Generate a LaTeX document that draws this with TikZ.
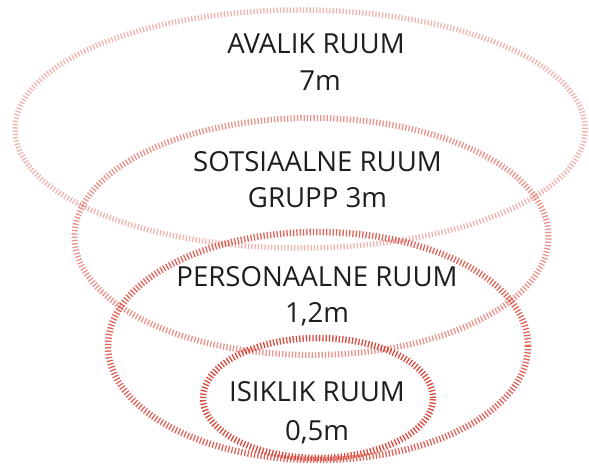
\documentclass[tikz,border=0pt]{standalone}
\usepackage{fontspec}
\setmainfont{Open Sans}
\definecolor{ringred}{RGB}{214,58,46}
\definecolor{labelgray}{RGB}{30,30,30}
\tikzset{
  ring/.style={draw=ringred, line width=6.5pt, dash pattern=on 1.3pt off 2pt},
  ringA/.style={ring, draw opacity=0.38, line width=5.5pt},
  ringB/.style={ring, draw opacity=0.55, line width=6pt},
  ringC/.style={ring, draw opacity=0.78},
  ringD/.style={ring, draw opacity=0.92},
  lbl/.style={anchor=base, inner sep=0pt, text=labelgray, font=\fontsize{27.6}{31}\selectfont}
}
\begin{document}
\begin{tikzpicture}[x=1pt, y=-1pt]
\useasboundingbox (0,0) rectangle (589,465);
\draw[ringA] (300,129) ellipse [x radius=285pt, y radius=119pt];
\draw[ringB] (311.5,236.5) ellipse [x radius=237pt, y radius=118.5pt];
\draw[ringC] (318,346) ellipse [x radius=210pt, y radius=114pt];
\draw[ringD] (318,398) ellipse [x radius=115pt, y radius=60pt];
\node[lbl] (avalik) at (316,54) {AVALIK RUUM};
\node[lbl] (avalikd) at (320,91) {7m};
\node[lbl] (sots) at (317.5,172) {SOTSIAALNE RUUM};
\node[lbl] (sotsd) at (317.5,208) {GRUPP 3m};
\node[lbl] (pers) at (317,287) {PERSONAALNE RUUM};
\node[lbl] (persd) at (317,322) {1,2m};
\node[lbl] (isik) at (317,401) {ISIKLIK RUUM};
\node[lbl] (isikd) at (317,440) {0,5m};
\end{tikzpicture}
\end{document}
